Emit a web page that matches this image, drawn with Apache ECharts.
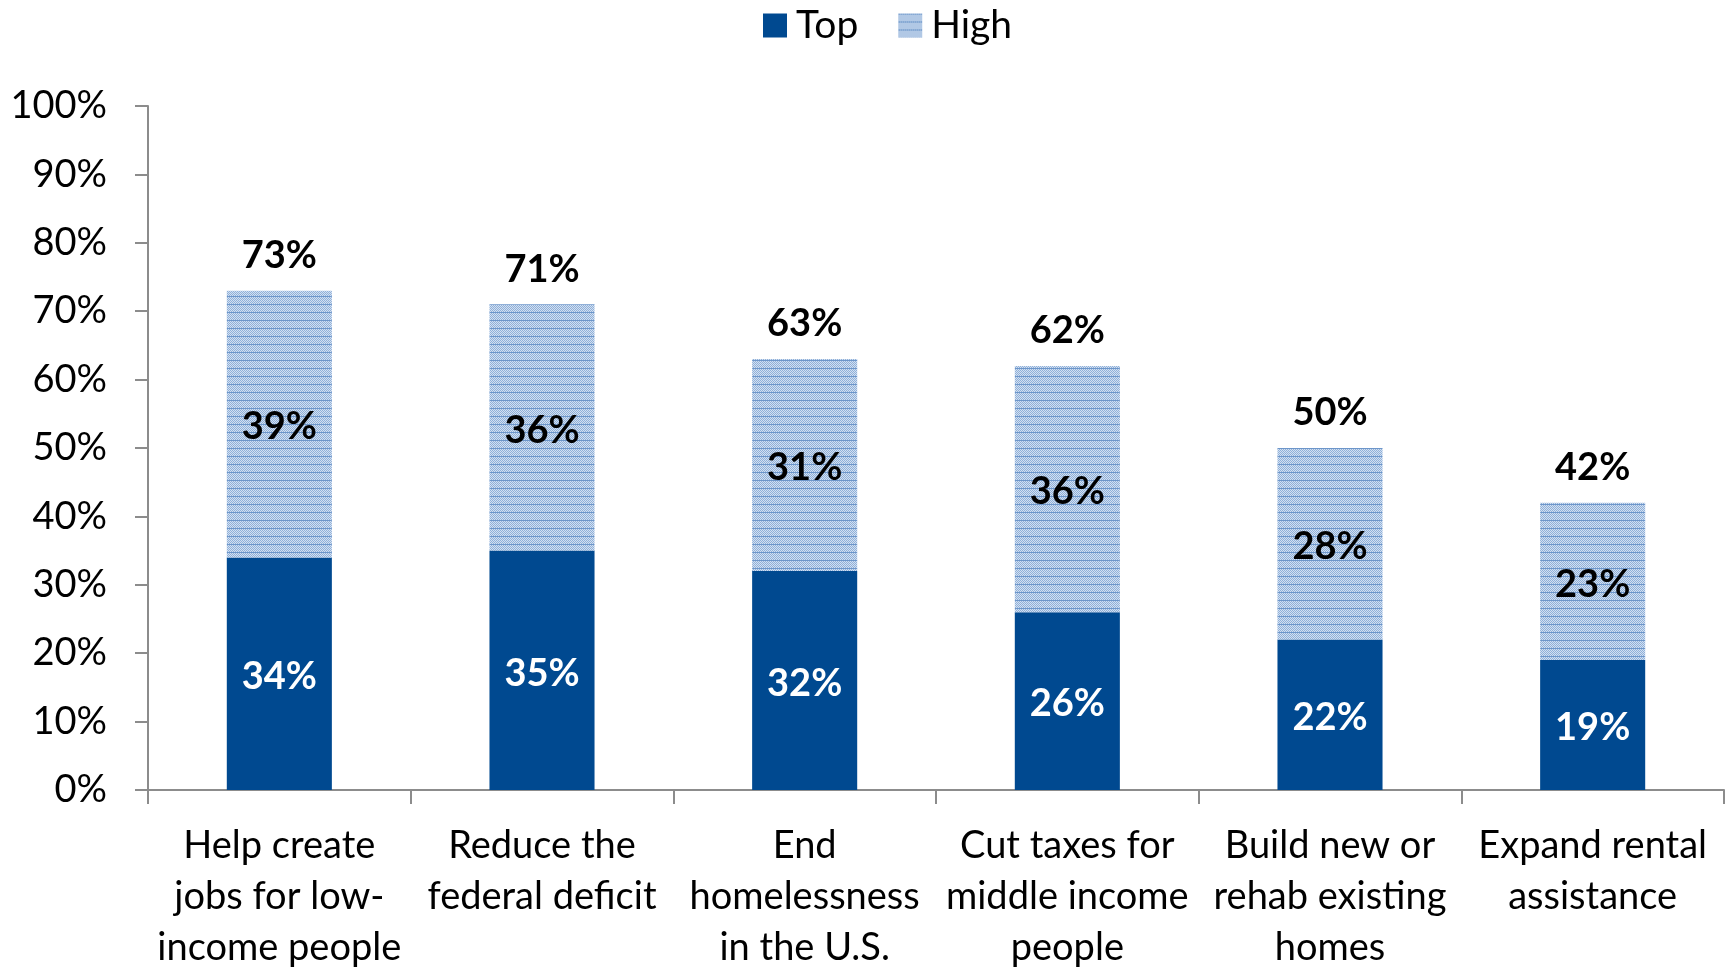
<!DOCTYPE html>
<html>
<head>
<meta charset="utf-8">
<script src="https://cdn.jsdelivr.net/npm/echarts@6/dist/echarts.min.js"></script>
<style>
  html, body { margin: 0; padding: 0; background: #ffffff; }
  #chart { width: 1731px; height: 971px; }
</style>
</head>
<body>
<div id="chart"></div>
<script>
// Priority ratings per policy goal (percent of respondents)
const categories = [
  'Help create\njobs for low-\nincome people',
  'Reduce the\nfederal deficit',
  'End\nhomelessness\nin the U.S.',
  'Cut taxes for\nmiddle income\npeople',
  'Build new or\nrehab existing\nhomes',
  'Expand rental\nassistance'
];
const topValues = [34, 35, 32, 26, 22, 19];
const highValues = [39, 36, 31, 36, 28, 23];
const totals = topValues.map((v, i) => v + highValues[i]);

// Dotted light-blue texture with faint horizontal rules for the "High" segment
function makePattern() {
  const c = document.createElement('canvas');
  c.width = 4; c.height = 8;
  const ctx = c.getContext('2d');
  for (let y = 0; y < 8; y++) {
    for (let x = 0; x < 4; x++) {
      ctx.fillStyle = ((x + y) % 2 === 0) ? '#8fb0d9' : '#d3e0f1';
      ctx.fillRect(x, y, 1, 1);
    }
  }
  ctx.fillStyle = '#6d96ca';
  ctx.fillRect(0, 0, 4, 1);
  return c;
}
const highFill = { image: makePattern(), repeat: 'repeat' };

const FONT = 'Lato, "Open Sans", sans-serif';
const labelBase = { fontSize: 38, fontWeight: 'bold', fontFamily: FONT };
const chart = echarts.init(document.getElementById('chart'), null, { renderer: 'canvas' });

chart.setOption({
  animation: false,
  textStyle: { fontFamily: FONT },
  legend: {
    data: [{ name: 'Top', icon: 'rect' }, { name: 'High', icon: 'rect' }],
    top: 1,
    left: 758,
    itemWidth: 24,
    itemHeight: 24,
    itemGap: 40,
    textStyle: { fontSize: 39, color: '#000', fontFamily: FONT, padding: [0, 0, 0, 4] }
  },
  grid: { left: 148, right: 7, top: 106, bottom: 181, containLabel: false, outerBoundsMode: 'none' },
  xAxis: {
    type: 'category',
    data: categories,
    axisLine: { lineStyle: { color: '#8c8c8c', width: 2 } },
    axisTick: { show: true, alignWithLabel: false, length: 14, lineStyle: { color: '#8c8c8c', width: 2 } },
    axisLabel: {
      interval: 0,
      margin: 30,
      fontSize: 38,
      lineHeight: 51,
      color: '#000',
      fontFamily: FONT
    }
  },
  yAxis: {
    type: 'value',
    min: 0,
    max: 100,
    interval: 10,
    splitLine: { show: false },
    axisLine: { show: true, lineStyle: { color: '#8c8c8c', width: 2 } },
    axisTick: { show: true, length: 13, lineStyle: { color: '#8c8c8c', width: 2 } },
    axisLabel: {
      formatter: '{value}%',
      fontSize: 38,
      color: '#000',
      margin: 41,
      fontFamily: FONT
    }
  },
  series: [
    {
      name: 'Top',
      type: 'bar',
      stack: 'total',
      barWidth: '40%',
      data: topValues,
      itemStyle: { color: '#004990' },
      label: Object.assign({ show: true, position: 'inside', offset: [0, 3], formatter: '{c}%', color: '#fff' }, labelBase)
    },
    {
      name: 'High',
      type: 'bar',
      stack: 'total',
      barWidth: '40%',
      data: highValues,
      itemStyle: { color: highFill },
      label: Object.assign({ show: true, position: 'inside', offset: [0, 3], formatter: '{c}%', color: '#000' }, labelBase)
    },
    {
      // zero-height cap on each stack that carries the total label
      name: 'Total',
      type: 'bar',
      stack: 'total',
      barWidth: '40%',
      data: totals.map(() => 0),
      itemStyle: { color: 'rgba(0,0,0,0)' },
      silent: true,
      label: Object.assign({
        show: true,
        position: 'top',
        distance: 16,
        color: '#000',
        formatter: (p) => totals[p.dataIndex] + '%'
      }, labelBase)
    }
  ]
});
</script>
</body>
</html>
